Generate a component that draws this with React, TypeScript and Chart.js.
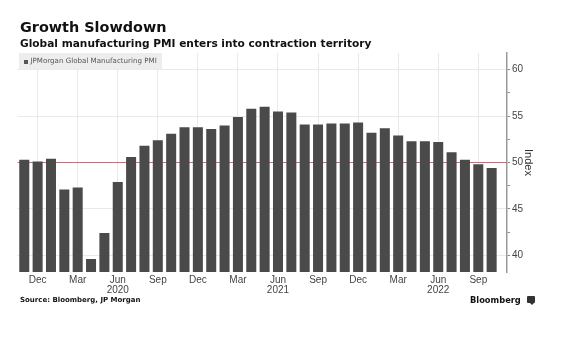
import React, { useEffect, useRef } from "react";
import { Chart, registerables } from "chart.js";

Chart.register(...registerables);

const months: string[] = [
  "Nov 2019", "Dec 2019", "Jan 2020", "Feb 2020", "Mar 2020", "Apr 2020", "May 2020", "Jun 2020",
  "Jul 2020", "Aug 2020", "Sep 2020", "Oct 2020", "Nov 2020", "Dec 2020", "Jan 2021", "Feb 2021",
  "Mar 2021", "Apr 2021", "May 2021", "Jun 2021", "Jul 2021", "Aug 2021", "Sep 2021", "Oct 2021",
  "Nov 2021", "Dec 2021", "Jan 2022", "Feb 2022", "Mar 2022", "Apr 2022", "May 2022", "Jun 2022",
  "Jul 2022", "Aug 2022", "Sep 2022", "Oct 2022",
];

const pmiValues: number[] = [
  50.3, 50.1, 50.4, 47.1, 47.3, 39.6, 42.4, 47.9, 50.6, 51.8, 52.4, 53.1,
  53.8, 53.8, 53.6, 54.0, 54.9, 55.8, 56.0, 55.5, 55.4, 54.1, 54.1, 54.2,
  54.2, 54.3, 53.2, 53.7, 52.9, 52.3, 52.3, 52.2, 51.1, 50.3, 49.8, 49.4,
];

const tickMonths: string[] = [
  "Dec 2019", "Mar 2020", "Jun 2020", "Sep 2020", "Dec 2020", "Mar 2021",
  "Jun 2021", "Sep 2021", "Dec 2021", "Mar 2022", "Jun 2022", "Sep 2022",
];
const tickLabels: (string | string[])[] = [
  "Dec", "Mar", ["Jun", "2020"], "Sep", "Dec", "Mar",
  ["Jun", "2021"], "Sep", "Dec", "Mar", ["Jun", "2022"], "Sep",
];

const yTicks: number[] = [40, 45, 50, 55, 60];
const thresholdValue = 50;

const AXIS_FONT = "'Liberation Sans Narrow', 'Liberation Sans', sans-serif";
const TEXT_FONT = "'DejaVu Sans', Verdana, sans-serif";

export default function App() {
  const canvasRef = useRef<HTMLCanvasElement | null>(null);

  useEffect(() => {
    const canvas = canvasRef.current;
    if (!canvas) return;

    const thresholdPlugin = {
      id: "threshold",
      beforeDatasetsDraw(chart: any) {
        const { ctx, chartArea, scales } = chart;
        const y = Math.round(scales.y.getPixelForValue(thresholdValue)) - 0.5;
        ctx.save();
        ctx.globalAlpha = 1;
        ctx.setLineDash([]);
        ctx.strokeStyle = "rgb(232, 96, 108)";
        ctx.lineWidth = 1.2;
        ctx.beginPath();
        ctx.moveTo(chartArea.left, y);
        ctx.lineTo(chartArea.right, y);
        ctx.stroke();
        ctx.restore();
      },
    };

    const tickIndex = tickMonths.map((m) => months.indexOf(m));

    const chart = new Chart(canvas, {
      type: "bar",
      data: {
        datasets: [
          {
            label: "JPMorgan Global Manufacturing PMI",
            data: pmiValues.map((v, i) => ({ x: i, y: v })),
            backgroundColor: "#4a4a4a",
            borderWidth: 0,
            barPercentage: 0.75,
            categoryPercentage: 1,
          },
        ],
      },
      options: {
        responsive: false,
        animation: false,
        devicePixelRatio: 1,
        layout: { padding: { left: 17.6, top: 53, right: 27, bottom: 35 } },
        plugins: {
          legend: { display: false },
          tooltip: { enabled: false },
        },
        scales: {
          x: {
            type: "linear",
            offset: false,
            min: -0.5,
            max: 36.15,
            afterBuildTicks: (scale: any) => {
              scale.ticks = tickIndex.map((v) => ({ value: v }));
            },
            afterFit: (scale: any) => {
              scale.height = 30;
            },
            ticks: {
              autoSkip: false,
              maxRotation: 0,
              padding: 3,
              color: "#444",
              font: { family: AXIS_FONT, size: 10, lineHeight: 1.0 },
              callback: (value: any) => {
                const k = tickIndex.indexOf(Number(value));
                return k >= 0 ? tickLabels[k] : "";
              },
            },
            grid: {
              offset: false,
              color: "#e9e9e9",
              lineWidth: 1,
              drawTicks: false,
            },
            border: { display: false },
          },
          y: {
            type: "linear",
            position: "right",
            min: 38.2,
            max: 61.8,
            afterBuildTicks: (scale: any) => {
              const t: any[] = [];
              for (let v = yTicks[0]; v <= yTicks[yTicks.length - 1]; v += 2.5) t.push({ value: v });
              scale.ticks = t;
            },
            afterFit: (scale: any) => {
              scale.width = 28;
            },
            ticks: {
              padding: 2,
              color: "#444",
              font: { family: AXIS_FONT, size: 10 },
              callback: (value: any) => (yTicks.includes(Number(value)) ? String(value) : ""),
            },
            grid: {
              color: (ctx: any) =>
                ctx.tick && yTicks.includes(ctx.tick.value) && ctx.tick.value !== thresholdValue
                  ? "#e9e9e9"
                  : "rgba(0,0,0,0)",
              tickColor: "#8a8a8a",
              tickLength: 3,
              lineWidth: 1,
            },
            border: { display: true, color: "#9a9a9a", width: 1.5 },
            title: {
              display: true,
              text: "Index",
              color: "#333",
              font: { family: "'Liberation Sans', sans-serif", size: 11 },
              padding: { top: 0, bottom: 0 },
            },
          },
        },
      },
      plugins: [thresholdPlugin],
    } as any);

    return () => chart.destroy();
  }, []);

  return (
    <div style={{ position: "fixed", left: 0, top: 0, width: 562, height: 337, background: "#fff", overflow: "hidden" }}>
      <canvas ref={canvasRef} width={562} height={337} style={{ position: "absolute", left: 0, top: 0, width: 562, height: 337 }} />
      <div style={{ position: "absolute", left: 20, top: 19, fontFamily: TEXT_FONT, fontWeight: "bold", fontSize: 14.4, lineHeight: "16px", color: "#111", whiteSpace: "nowrap" }}>
        Growth Slowdown
      </div>
      <div style={{ position: "absolute", left: 20, top: 37, fontFamily: TEXT_FONT, fontWeight: "bold", fontSize: 10.6, lineHeight: "12px", color: "#111", whiteSpace: "nowrap" }}>
        Global manufacturing PMI enters into contraction territory
      </div>
      <div style={{ position: "absolute", left: 19, top: 53, width: 143, height: 17, background: "rgba(236,236,236,0.92)" }}>
        <div style={{ position: "absolute", left: 5, top: 6.5, width: 4, height: 4, background: "#555" }} />
        <div style={{ position: "absolute", left: 11.5, top: 3, fontFamily: TEXT_FONT, fontSize: 7.1, lineHeight: "10px", color: "#555", whiteSpace: "nowrap" }}>
          JPMorgan Global Manufacturing PMI
        </div>
      </div>
      <div style={{ position: "absolute", left: 20, top: 296, fontFamily: TEXT_FONT, fontWeight: "bold", fontSize: 7, lineHeight: "9px", color: "#111", whiteSpace: "nowrap" }}>
        Source: Bloomberg, JP Morgan
      </div>
      <div style={{ position: "absolute", left: 470, top: 294.5, fontFamily: TEXT_FONT, fontWeight: "bold", fontSize: 8.3, lineHeight: "10px", color: "#111", whiteSpace: "nowrap" }}>
        Bloomberg
      </div>
      <div style={{ position: "absolute", left: 527, top: 296, width: 8, height: 7, background: "#333", borderRadius: 1 }} />
      <div style={{ position: "absolute", left: 529.5, top: 303, width: 0, height: 0, borderLeft: "2px solid transparent", borderRight: "2px solid transparent", borderTop: "2px solid #333" }} />
    </div>
  );
}
